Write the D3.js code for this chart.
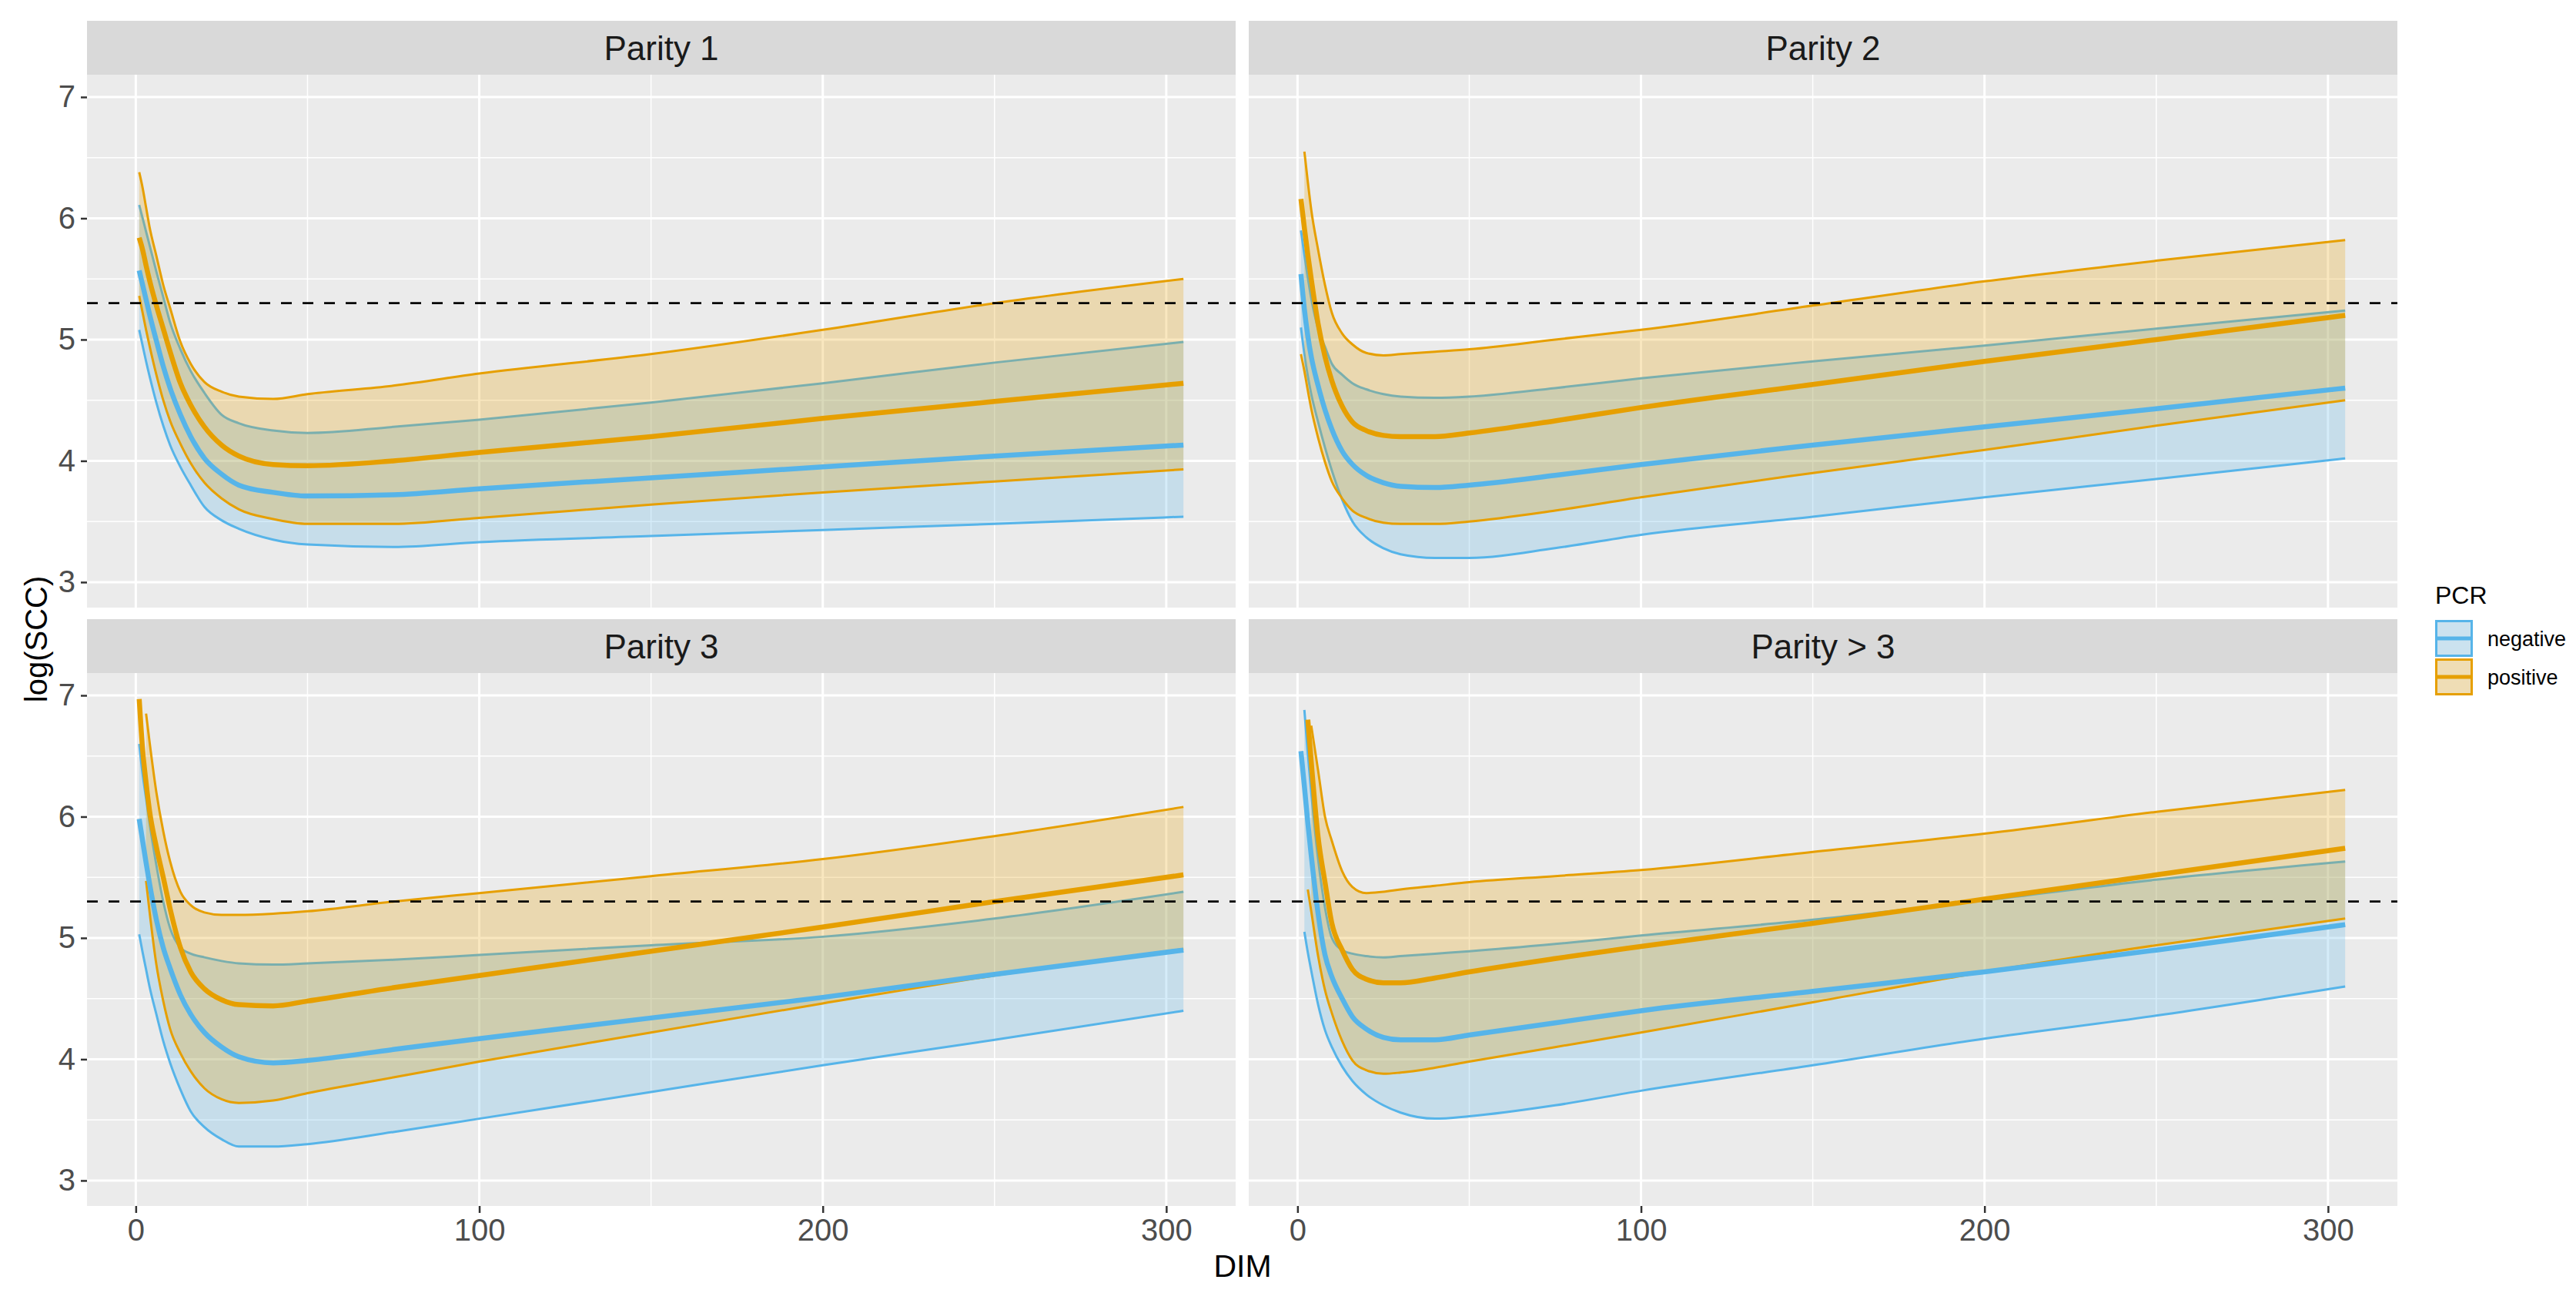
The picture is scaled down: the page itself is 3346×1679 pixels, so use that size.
<!DOCTYPE html>
<html>
<head>
<meta charset="utf-8">
<script src="https://cdn.jsdelivr.net/npm/d3@7"></script>
<style>
  body { margin: 0; background: #ffffff; }
  text { font-family: "Liberation Sans", Arial, sans-serif; }
</style>
</head>
<body>
<svg id="chart" width="3346" height="1679"></svg>
<script>
// days in milk at which the curves were read
var dim = [1, 2, 3, 4, 6, 8, 10, 13, 16, 20, 25, 30, 40, 50, 75, 100, 150, 200, 250, 305];

var panelNames = ["Parity 1", "Parity 2", "Parity 3", "Parity > 3"];
var pcrLevels = ["negative", "positive"];
var xTicks = [0, 100, 200, 300];
var yTicks = [3, 4, 5, 6, 7];
var threshold = 5.3;

// Parity 1
var p1NegLo   = [5.08, 4.95, 4.82, 4.70, 4.48, 4.29, 4.13, 3.95, 3.80, 3.62, 3.51, 3.44, 3.35, 3.31, 3.29, 3.33, 3.38, 3.43, 3.48, 3.54];
var p1NegMean = [5.57, 5.45, 5.33, 5.21, 4.99, 4.78, 4.60, 4.38, 4.20, 4.02, 3.89, 3.80, 3.74, 3.71, 3.72, 3.77, 3.86, 3.95, 4.04, 4.13];
var p1NegHi   = [6.11, 6.00, 5.89, 5.78, 5.56, 5.35, 5.14, 4.92, 4.74, 4.56, 4.38, 4.31, 4.25, 4.23, 4.28, 4.34, 4.48, 4.64, 4.81, 4.98];
var p1PosLo   = [5.36, 5.22, 5.08, 4.95, 4.71, 4.50, 4.33, 4.14, 3.98, 3.82, 3.69, 3.60, 3.52, 3.48, 3.48, 3.53, 3.64, 3.74, 3.83, 3.93];
var p1PosMean = [5.84, 5.74, 5.61, 5.49, 5.28, 5.09, 4.90, 4.64, 4.46, 4.28, 4.13, 4.04, 3.97, 3.96, 4.00, 4.07, 4.20, 4.35, 4.49, 4.64];
var p1PosHi   = [6.38, 6.25, 6.09, 5.93, 5.69, 5.45, 5.26, 4.98, 4.80, 4.65, 4.57, 4.53, 4.51, 4.55, 4.62, 4.72, 4.88, 5.08, 5.30, 5.50];

// Parity 2
var p2NegLo   = [5.10, 4.88, 4.70, 4.55, 4.32, 4.11, 3.92, 3.68, 3.50, 3.37, 3.28, 3.23, 3.20, 3.20, 3.28, 3.39, 3.54, 3.70, 3.85, 4.02];
var p2NegMean = [5.54, 5.25, 5.03, 4.86, 4.62, 4.42, 4.26, 4.08, 3.97, 3.88, 3.82, 3.79, 3.78, 3.80, 3.88, 3.97, 4.13, 4.28, 4.43, 4.60];
var p2NegHi   = [5.90, 5.70, 5.51, 5.34, 5.09, 4.94, 4.80, 4.71, 4.64, 4.59, 4.55, 4.53, 4.52, 4.53, 4.60, 4.68, 4.82, 4.95, 5.09, 5.24];
var p2PosLo   = [4.88, 4.74, 4.58, 4.43, 4.19, 3.99, 3.83, 3.69, 3.59, 3.53, 3.49, 3.48, 3.48, 3.50, 3.59, 3.70, 3.90, 4.09, 4.29, 4.50];
var p2PosMean = [6.16, 5.92, 5.70, 5.50, 5.13, 4.86, 4.66, 4.45, 4.32, 4.25, 4.21, 4.20, 4.20, 4.23, 4.33, 4.44, 4.63, 4.82, 5.00, 5.20];
var p2PosHi   = [null, 6.55, 6.30, 6.07, 5.74, 5.45, 5.22, 5.05, 4.96, 4.89, 4.87, 4.88, 4.90, 4.92, 5.00, 5.08, 5.28, 5.48, 5.65, 5.82];

// Parity 3
var p3NegLo   = [5.03, 4.88, 4.74, 4.60, 4.37, 4.15, 3.97, 3.75, 3.57, 3.44, 3.34, 3.28, 3.28, 3.30, 3.40, 3.51, 3.73, 3.95, 4.16, 4.40];
var p3NegMean = [5.98, 5.80, 5.62, 5.45, 5.15, 4.92, 4.75, 4.53, 4.37, 4.22, 4.10, 4.02, 3.97, 3.99, 4.08, 4.17, 4.34, 4.51, 4.70, 4.90];
var p3NegHi   = [6.60, 6.35, 6.15, 5.95, 5.60, 5.30, 5.08, 4.92, 4.87, 4.84, 4.81, 4.79, 4.78, 4.79, 4.82, 4.86, 4.94, 5.01, 5.16, 5.38];
var p3PosLo   = [null, null, 5.47, 5.22, 4.78, 4.48, 4.25, 4.05, 3.90, 3.76, 3.67, 3.64, 3.66, 3.72, 3.85, 3.98, 4.22, 4.46, 4.69, 4.91];
var p3PosMean = [6.97, 6.55, 6.28, 6.05, 5.75, 5.50, 5.24, 4.92, 4.72, 4.58, 4.49, 4.45, 4.44, 4.48, 4.59, 4.69, 4.89, 5.09, 5.30, 5.52];
var p3PosHi   = [null, null, 6.85, 6.62, 6.20, 5.88, 5.63, 5.38, 5.27, 5.21, 5.19, 5.19, 5.20, 5.22, 5.30, 5.37, 5.51, 5.65, 5.84, 6.08];

// Parity > 3
var p4NegLo   = [null, 5.05, 4.88, 4.73, 4.45, 4.24, 4.10, 3.94, 3.82, 3.71, 3.62, 3.56, 3.51, 3.53, 3.62, 3.74, 3.95, 4.17, 4.36, 4.60];
var p4NegMean = [6.54, 6.25, 5.95, 5.68, 5.20, 4.86, 4.68, 4.50, 4.35, 4.25, 4.18, 4.16, 4.16, 4.20, 4.30, 4.40, 4.56, 4.72, 4.90, 5.11];
var p4NegHi   = [null, 6.88, 6.52, 6.20, 5.65, 5.25, 5.00, 4.90, 4.87, 4.85, 4.84, 4.85, 4.87, 4.89, 4.95, 5.02, 5.15, 5.31, 5.48, 5.63];
var p4PosLo   = [null, null, 5.40, 5.22, 4.85, 4.57, 4.38, 4.15, 3.99, 3.91, 3.88, 3.89, 3.93, 3.98, 4.10, 4.22, 4.47, 4.72, 4.94, 5.16];
var p4PosMean = [null, null, 6.80, 6.45, 5.83, 5.46, 5.12, 4.90, 4.74, 4.66, 4.63, 4.63, 4.67, 4.72, 4.83, 4.93, 5.12, 5.32, 5.52, 5.74];
var p4PosHi   = [null, null, null, 6.75, 6.38, 6.00, 5.80, 5.55, 5.42, 5.37, 5.38, 5.40, 5.43, 5.46, 5.51, 5.56, 5.71, 5.86, 6.04, 6.22];

var panels = [
  { name: panelNames[0], negative: { lo: p1NegLo, mean: p1NegMean, hi: p1NegHi }, positive: { lo: p1PosLo, mean: p1PosMean, hi: p1PosHi } },
  { name: panelNames[1], negative: { lo: p2NegLo, mean: p2NegMean, hi: p2NegHi }, positive: { lo: p2PosLo, mean: p2PosMean, hi: p2PosHi } },
  { name: panelNames[2], negative: { lo: p3NegLo, mean: p3NegMean, hi: p3NegHi }, positive: { lo: p3PosLo, mean: p3PosMean, hi: p3PosHi } },
  { name: panelNames[3], negative: { lo: p4NegLo, mean: p4NegMean, hi: p4NegHi }, positive: { lo: p4PosLo, mean: p4PosMean, hi: p4PosHi } }
];

var colors = { negative: "#56B4E9", positive: "#E69F00" };
var fillAlpha = 0.25;

var colX = [113, 1622];
var rowY = [97, 874];
var pw = 1492, ph = 692, stripH = 70;

var svg = d3.select("#chart");

var x = d3.scaleLinear().domain([-14.2, 320.2]).range([0, pw]);
var y = d3.scaleLinear().domain([2.79, 7.184]).range([ph, 0]);

function lineFor(vals) {
  return d3.line()
    .defined(function (d, k) { return vals[k] != null; })
    .x(function (d, k) { return x(dim[k]); })
    .y(function (d, k) { return y(vals[k]); })
    .curve(d3.curveMonotoneX)(dim);
}

function ribbonFor(lo, hi) {
  return d3.area()
    .defined(function (d, k) { return lo[k] != null && hi[k] != null; })
    .x(function (d, k) { return x(dim[k]); })
    .y0(function (d, k) { return y(lo[k]); })
    .y1(function (d, k) { return y(hi[k]); })
    .curve(d3.curveMonotoneX)(dim);
}

panels.forEach(function (p, i) {
  var col = i % 2, row = Math.floor(i / 2);
  var g = svg.append("g")
    .attr("transform", "translate(" + colX[col] + "," + rowY[row] + ")");

  // strip
  g.append("rect")
    .attr("x", 0).attr("y", -stripH)
    .attr("width", pw).attr("height", stripH)
    .attr("fill", "#D9D9D9");
  g.append("text")
    .attr("x", pw / 2).attr("y", -stripH / 2 + 15.5)
    .attr("text-anchor", "middle")
    .attr("font-size", 44)
    .attr("fill", "#1A1A1A")
    .text(p.name);

  // panel background and grid
  g.append("rect")
    .attr("width", pw).attr("height", ph)
    .attr("fill", "#EBEBEB");

  g.selectAll(".minx").data([50, 150, 250]).enter().append("line")
    .attr("x1", function (d) { return x(d); }).attr("x2", function (d) { return x(d); })
    .attr("y1", 0).attr("y2", ph)
    .attr("stroke", "#ffffff").attr("stroke-width", 1.5);
  g.selectAll(".miny").data([3.5, 4.5, 5.5, 6.5]).enter().append("line")
    .attr("y1", function (d) { return y(d); }).attr("y2", function (d) { return y(d); })
    .attr("x1", 0).attr("x2", pw)
    .attr("stroke", "#ffffff").attr("stroke-width", 1.5);
  g.selectAll(".majx").data(xTicks).enter().append("line")
    .attr("x1", function (d) { return x(d); }).attr("x2", function (d) { return x(d); })
    .attr("y1", 0).attr("y2", ph)
    .attr("stroke", "#ffffff").attr("stroke-width", 3);
  g.selectAll(".majy").data(yTicks).enter().append("line")
    .attr("y1", function (d) { return y(d); }).attr("y2", function (d) { return y(d); })
    .attr("x1", 0).attr("x2", pw)
    .attr("stroke", "#ffffff").attr("stroke-width", 3);

  var clipId = "clip" + i;
  g.append("clipPath").attr("id", clipId)
    .append("rect").attr("width", pw).attr("height", ph);
  var plot = g.append("g").attr("clip-path", "url(#" + clipId + ")");

  // ribbons with their outlines, one group after the other
  pcrLevels.forEach(function (lev) {
    var s = p[lev];
    plot.append("path")
      .attr("d", ribbonFor(s.lo, s.hi))
      .attr("fill", colors[lev])
      .attr("fill-opacity", fillAlpha);
    [s.hi, s.lo].forEach(function (vals) {
      plot.append("path")
        .attr("d", lineFor(vals))
        .attr("fill", "none")
        .attr("stroke", colors[lev])
        .attr("stroke-width", 3)
        .attr("stroke-linejoin", "round");
    });
  });

  // fitted means
  pcrLevels.forEach(function (lev) {
    plot.append("path")
      .attr("d", lineFor(p[lev].mean))
      .attr("fill", "none")
      .attr("stroke", colors[lev])
      .attr("stroke-width", 6.5)
      .attr("stroke-linejoin", "round");
  });

  // threshold
  plot.append("line")
    .attr("x1", 0).attr("x2", pw)
    .attr("y1", y(threshold)).attr("y2", y(threshold))
    .attr("stroke", "#000000")
    .attr("stroke-width", 2.8)
    .attr("stroke-dasharray", "14,14");

  // axes
  if (col === 0) {
    var ya = g.append("g").call(d3.axisLeft(y).tickValues(yTicks).tickFormat(d3.format("d")).tickSize(8).tickPadding(7));
    ya.select(".domain").remove();
    ya.selectAll("line").attr("stroke", "#333333").attr("stroke-width", 2.5);
    ya.selectAll("text").attr("font-size", 40).attr("fill", "#4D4D4D")
      .style("font-family", '"Liberation Sans", Arial, sans-serif');
  }
  if (row === 1) {
    var xa = g.append("g").attr("transform", "translate(0," + ph + ")")
      .call(d3.axisBottom(x).tickValues(xTicks).tickFormat(d3.format("d")).tickSize(9).tickPadding(8));
    xa.select(".domain").remove();
    xa.selectAll("line").attr("stroke", "#333333").attr("stroke-width", 2.5);
    xa.selectAll("text").attr("font-size", 40).attr("fill", "#4D4D4D")
      .style("font-family", '"Liberation Sans", Arial, sans-serif');
  }
});

// axis titles
svg.append("text")
  .attr("x", 1614).attr("y", 1658)
  .attr("text-anchor", "middle")
  .attr("font-size", 41)
  .attr("fill", "#000000")
  .text("DIM");

svg.append("text")
  .attr("transform", "translate(61,830) rotate(-90)")
  .attr("text-anchor", "middle")
  .attr("font-size", 40)
  .attr("fill", "#000000")
  .text("log(SCC)");

// legend
var legend = svg.append("g").attr("transform", "translate(3163,0)");
legend.append("text")
  .attr("x", 0).attr("y", 784)
  .attr("font-size", 32)
  .attr("fill", "#000000")
  .text("PCR");

pcrLevels.forEach(function (lev, k) {
  var ky = 805 + k * 50;
  legend.append("rect")
    .attr("x", 0).attr("y", ky).attr("width", 49).attr("height", 48)
    .attr("fill", "#F2F2F2");
  legend.append("rect")
    .attr("x", 1.5).attr("y", ky + 1.5).attr("width", 46).attr("height", 45)
    .attr("fill", colors[lev]).attr("fill-opacity", fillAlpha)
    .attr("stroke", colors[lev]).attr("stroke-width", 3);
  legend.append("line")
    .attr("x1", 0).attr("x2", 49)
    .attr("y1", ky + 24).attr("y2", ky + 24)
    .attr("stroke", colors[lev]).attr("stroke-width", 5);
  legend.append("text")
    .attr("x", 68).attr("y", ky + 24 + 9.5)
    .attr("font-size", 27)
    .attr("fill", "#000000")
    .text(lev);
});
</script>
</body>
</html>
